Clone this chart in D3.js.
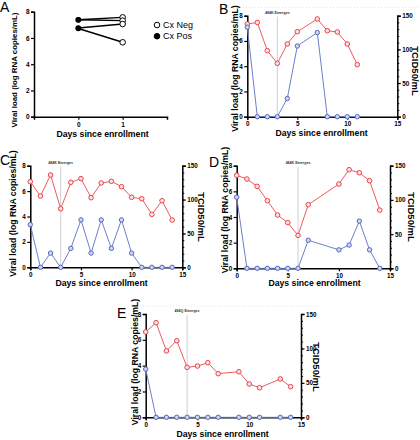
<!DOCTYPE html>
<html><head><meta charset="utf-8">
<script src="https://cdn.jsdelivr.net/npm/d3@7"></script>
<style>
html,body{margin:0;padding:0;background:#fff;}
svg{display:block;font-family:"Liberation Sans",Arial,sans-serif;}
</style></head>
<body><svg id="c" width="420" height="440"></svg>
<script>
// ---------- DATA ----------
// Panel A
const aDays = ["0", "1"];
const aDay0 = [7.39, 7.39, 6.76, 6.72];   // Cx Pos (day 0)
const aDay1 = [7.57, 7.32, 7.06, 5.67];   // Cx Neg (day 1)
const aLegend = ["Cx Neg", "Cx Pos"];
const viralTicks = [0, 2, 4, 6, 8];
const dayTicks = [0, 5, 10, 15];
const tcidTicks = [0, 50, 100, 150];

// Panel B
const bDays  = [0, 1, 2, 3, 4, 5, 7, 8, 9, 10, 11];
const bViral = [7.34, 7.47, 5.23, 4.23, 5.76, 6.73, 7.74, 6.81, 6.71, 5.76, 4.12];
const bTcid  = [133, 0, 0, 0, 27, 105, 125, 0, 0, 0, 0];
const bEvent = {day: 3, label: "484K Emerges"};

// Panel C
const cDays  = [0, 1, 2, 3, 4, 5, 6, 7, 8, 9, 10, 11, 12, 13, 14];
const cViral = [6.74, 5.61, 7.27, 4.61, 6.69, 6.98, 5.48, 6.64, 6.77, 6.35, 5.51, 5.40, 4.17, 5.24, 3.72];
const cTcid  = [63, 0, 21, 0, 28, 70, 21, 70, 28, 70, 21, 0, 0, 0, 0];
const cEvent = {day: 3, label: "484K Emerges"};

// Panel D
const dDays  = [0, 1, 2, 3, 4, 5, 6, 7, 10, 11, 12, 13, 14];
const dViral = [7.25, 6.96, 6.39, 5.27, 4.15, 3.56, 2.57, 4.96, 6.57, 7.69, 7.45, 6.83, 4.54];
const dTcid  = [104, 0, 0, 0, 0, 0, 0, 41, 27, 34, 69, 27, 0];
const dEvent = {day: 6, label: "484K Emerges"};

// Panel E
const eDays  = [0, 1, 2, 3, 4, 5, 6, 7, 9, 10, 11, 13, 14];
const eViral = [6.61, 7.33, 5.14, 5.93, 3.87, 3.97, 4.23, 3.38, 3.53, 2.58, 2.29, 2.97, 2.37];
const eTcid  = [70, 0, 0, 0, 0, 0, 0, 0, 0, 0, 0, 0, 0];
const eEvent = {day: 4, label: "484Q Emerges"};

const yTitle = "Viral load (log RNA copies/mL)";
const xTitle = "Days since enrollment";
const rTitle = "TCID50/mL";

// ---------- DRAW ----------
const svg = d3.select("#c");
const RED = "#ef5a5e", RED_D = "#e8454b";
const BLUE = "#6d80cc", BLUE_D = "#5468bb";

function styleAxis(g, tickFont) {
  g.select(".domain").attr("stroke", "#000").attr("stroke-width", 1.5);
  g.selectAll(".tick line").attr("stroke", "#000").attr("stroke-width", 1.2);
  g.selectAll(".tick text").attr("font-size", tickFont).attr("font-weight", "bold").attr("fill", "#000");
}

function letter(txt, x, y) {
  svg.append("text").attr("x", x).attr("y", y).attr("font-size", 14).attr("fill", "#000").text(txt);
}

function titles(p) {
  svg.append("text").attr("transform", `translate(${p.ytx},${p.yty}) rotate(-90)`)
    .attr("text-anchor", "middle").attr("dominant-baseline", "central")
    .attr("font-size", p.ytf || 8.7).attr("font-weight", "bold").text(yTitle);
  svg.append("text").attr("x", p.xtx).attr("y", p.xty).attr("text-anchor", "middle")
    .attr("font-size", 8.7).attr("font-weight", "bold").text(xTitle);
  if (p.rtx) {
    svg.append("text").attr("transform", `translate(${p.rtx},${p.rty}) rotate(90)`)
      .attr("text-anchor", "middle").attr("dominant-baseline", "central")
      .attr("font-size", 9.5).attr("font-weight", "bold").text(rTitle);
  }
}

function timePanel(p, days, viral, tcid, ev) {
  const x = d3.scaleLinear().domain([0, 15]).range([p.x0, p.x1]);
  const y = d3.scaleLinear().domain([0, 8]).range([p.y0, p.y1]);
  const y2 = d3.scaleLinear().domain([0, 150]).range([p.y0, p.y1]);
  const g = svg.append("g");

  // event line
  g.append("line").attr("x1", x(ev.day)).attr("x2", x(ev.day))
    .attr("y1", p.y1 + 1).attr("y2", p.y0).attr("stroke", "#cfcfcf").attr("stroke-width", 1);
  g.append("text").attr("x", x(ev.day)).attr("y", p.y1 - 1.6).attr("text-anchor", "middle")
    .attr("font-size", 3.6).attr("font-weight", "bold").attr("fill", "#333").text(ev.label);

  // axes
  const ax = g.append("g").attr("transform", `translate(0,${p.y0})`)
    .call(d3.axisBottom(x).tickValues(dayTicks).tickSize(3).tickPadding(2));
  styleAxis(ax, 6.3);
  const ay = g.append("g").attr("transform", `translate(${p.x0},0)`)
    .call(d3.axisLeft(y).tickValues(viralTicks).tickSize(3).tickPadding(1.5));
  styleAxis(ay, 6.3);
  const ar2m = g.append("g").attr("transform", `translate(${p.x1},0)`)
    .call(d3.axisRight(y2).tickValues(d3.range(0, 151, 10)).tickSize(2).tickFormat(""));
  ar2m.select(".domain").remove();
  ar2m.selectAll(".tick line").attr("stroke", "#000").attr("stroke-width", 1);
  const ar2 = g.append("g").attr("transform", `translate(${p.x1},0)`)
    .call(d3.axisRight(y2).tickValues(tcidTicks).tickSize(3.5).tickPadding(1.5));
  styleAxis(ar2, 6.3);

  // viral load (red)
  const rp = days.map((d, i) => [x(d), y(viral[i])]);
  g.append("path").attr("d", d3.line()(rp)).attr("fill", "none").attr("stroke", RED).attr("stroke-width", 1);
  g.selectAll(null).data(rp).join("circle").attr("cx", d => d[0]).attr("cy", d => d[1]).attr("r", 2.3)
    .attr("fill", "#fbe0e0").attr("stroke", RED_D).attr("stroke-width", 1);

  // TCID50 (blue)
  const bp = days.map((d, i) => [x(d), y2(tcid[i])]);
  g.append("path").attr("d", d3.line()(bp)).attr("fill", "none").attr("stroke", BLUE).attr("stroke-width", 1);
  g.selectAll(null).data(bp).join("circle").attr("cx", d => d[0]).attr("cy", d => d[1]).attr("r", 2.2)
    .attr("fill", "#cfd6f0").attr("stroke", BLUE_D).attr("stroke-width", 1);

  titles(p);
}

// faint dotted separators from the source figure
svg.append("line").attr("x1", 222).attr("x2", 420).attr("y1", 7.5).attr("y2", 7.5)
  .attr("stroke", "#e4e4e4").attr("stroke-dasharray", "1,2");
svg.append("line").attr("x1", 140).attr("x2", 318).attr("y1", 306).attr("y2", 306)
  .attr("stroke", "#e4e4e4").attr("stroke-dasharray", "1,2");

// ----- Panel A -----
(function () {
  const x = d3.scalePoint().domain(["-", ...aDays, "+"]).range([34, 167]);
  const y = d3.scaleLinear().domain([0, 8]).range([116.7, 11.7]);
  const g = svg.append("g");
  const ax = g.append("g").attr("transform", "translate(0,116.7)")
    .call(d3.axisBottom(x).tickValues(aDays).tickSize(3).tickPadding(3));
  styleAxis(ax, 6.5);
  const ay = g.append("g").attr("transform", "translate(34,0)")
    .call(d3.axisLeft(y).tickValues(viralTicks).tickSize(3).tickPadding(1.5));
  styleAxis(ay, 6.5);
  aDay0.forEach((v, i) => {
    g.append("line").attr("x1", x("0")).attr("y1", y(v)).attr("x2", x("1")).attr("y2", y(aDay1[i]))
      .attr("stroke", "#000").attr("stroke-width", 1.4);
  });
  g.selectAll(null).data(aDay0).join("circle").attr("cx", x("0")).attr("cy", d => y(d)).attr("r", 2.8).attr("fill", "#000");
  g.selectAll(null).data(aDay1).join("circle").attr("cx", x("1")).attr("cy", d => y(d)).attr("r", 2.8)
    .attr("fill", "#fff").attr("stroke", "#000").attr("stroke-width", 1);
  // legend
  const lg = g.append("g");
  aLegend.forEach((t, i) => {
    lg.append("circle").attr("cx", 157).attr("cy", 25 + i * 11.2).attr("r", 2.8)
      .attr("fill", i === 0 ? "#fff" : "#000").attr("stroke", "#000").attr("stroke-width", 1);
    lg.append("text").attr("x", 163).attr("y", 25 + i * 11.2).attr("dominant-baseline", "central")
      .attr("font-size", 9).text(t);
  });
  titles({ytx: 14, yty: 70, ytf: 7.9, xtx: 102.5, xty: 137});
})();
letter("A", 0, 12);

timePanel({x0: 247.3, x1: 397.3, y0: 116.7, y1: 15.7, ytx: 235, yty: 68.5, xtx: 321.5, xty: 136, rtx: 415, rty: 71},
  bDays, bViral, bTcid, bEvent);
letter("B", 219, 13.5);

timePanel({x0: 30.3, x1: 182.3, y0: 267.3, y1: 165.7, ytx: 13, yty: 213.5, xtx: 101.5, xty: 286, rtx: 201.5, rty: 217},
  cDays, cViral, cTcid, cEvent);
letter("C", 0, 165);

timePanel({x0: 236.7, x1: 390, y0: 268.3, y1: 165.7, ytx: 225, yty: 210, xtx: 314.5, xty: 286, rtx: 411.5, rty: 217},
  dDays, dViral, dTcid, dEvent);
letter("D", 209, 167);

timePanel({x0: 145.7, x1: 301, y0: 417.3, y1: 314, ytx: 135, yty: 362, xtx: 222.5, xty: 437, rtx: 316.5, rty: 367},
  eDays, eViral, eTcid, eEvent);
letter("E", 117, 318);
</script></body></html>
